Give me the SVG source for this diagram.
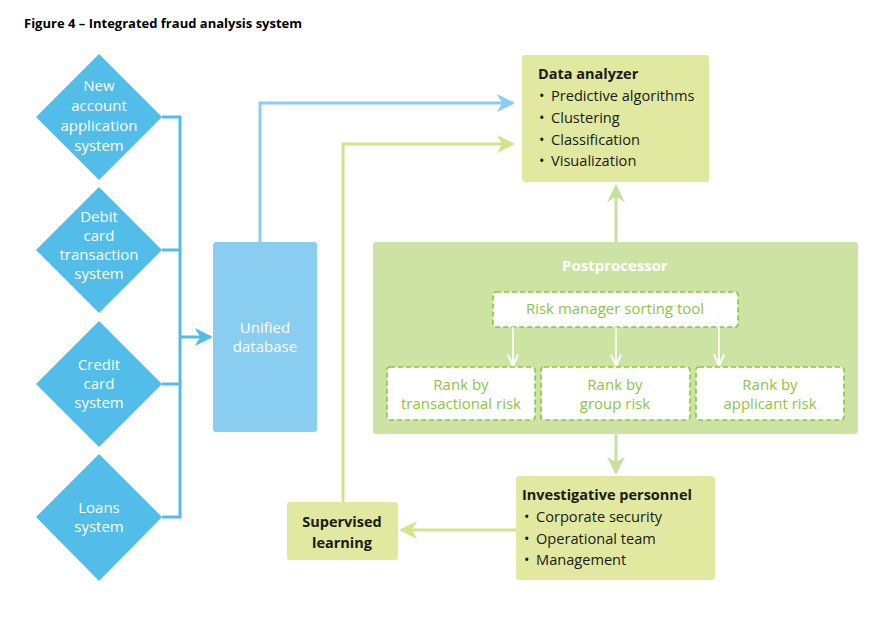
<svg xmlns="http://www.w3.org/2000/svg" width="876" height="641" viewBox="0 0 876 641">
<defs>
<style>
text{font-family:"Open Sans","Noto Sans","Liberation Sans",sans-serif}
.title{font-size:13px;font-weight:bold;fill:#000}
.dia{fill:#52bde9}
.dt{font-size:15px;fill:#fff;text-anchor:middle}
.db{fill:#89cdf1}
.lg{fill:#e0e99f}
.pp{fill:#cce3a4}
.dash{fill:#fff;stroke:#8cc63f;stroke-width:1.6;stroke-dasharray:5,3}
.gt{font-size:15px;fill:#8cc63f;text-anchor:middle}
.bt{font-size:14.6px;fill:#1a1a1a}
.bh{font-size:14.5px;font-weight:bold;fill:#1a1a1a}
.wt{font-size:15px;font-weight:bold;fill:#fff;text-anchor:middle}
.cb{fill:none;stroke:#52bde9;stroke-width:3}
.cl{fill:none;stroke:#89cdf1;stroke-width:3}
.cy{fill:none;stroke:#d4e38a;stroke-width:3}
.cg{fill:none;stroke:#c8e09e;stroke-width:3}
.cw{fill:none;stroke:#fff;stroke-width:1.6}
</style>
<marker id="ab" viewBox="0 0 10 10" refX="9" refY="5" markerWidth="6" markerHeight="6" orient="auto"><path d="M0,0 L10,5 L0,10 L3,5 Z" fill="#52bde9"/></marker>
<marker id="al" viewBox="0 0 10 10" refX="9" refY="5" markerWidth="6" markerHeight="6" orient="auto"><path d="M0,0 L10,5 L0,10 L3,5 Z" fill="#89cdf1"/></marker>
<marker id="ay" viewBox="0 0 10 10" refX="9" refY="5" markerWidth="6" markerHeight="6" orient="auto"><path d="M0,0 L10,5 L0,10 L3,5 Z" fill="#d4e38a"/></marker>
<marker id="ag" viewBox="0 0 10 10" refX="9" refY="5" markerWidth="6" markerHeight="6" orient="auto"><path d="M0,0 L10,5 L0,10 L3,5 Z" fill="#c8e09e"/></marker>
<marker id="aw" viewBox="0 0 10 10" refX="9" refY="5" markerWidth="8" markerHeight="8" orient="auto"><path d="M0,1 L9,5 L0,9" fill="none" stroke="#fff" stroke-width="1.6"/></marker>
</defs>
<rect width="876" height="641" fill="#fff"/>
<text class="title" x="24" y="28">Figure 4 – Integrated fraud analysis system</text>

<g id="connectors">
<path class="cb" d="M162,117 H180 V517 H162 M162,250 H180 M162,384 H180"/>
<path class="cb" d="M180,337 H211" marker-end="url(#ab)"/>
<path class="cl" d="M260,242 V103 H513" marker-end="url(#al)"/>
<path class="cy" d="M343,502 V144 H513" marker-end="url(#ay)"/>
<path class="cg" d="M616,242 V186" marker-end="url(#ag)"/>
<path class="cg" d="M616,434 V473" marker-end="url(#ag)"/>
<path class="cy" d="M516,530 H401" marker-end="url(#ay)"/>
</g>

<g id="new-account">
<polygon class="dia" points="99,54 162,117 99,180 36,117"/>
<text class="dt"><tspan x="99" y="91">New</tspan><tspan x="99" y="111">account</tspan><tspan x="99" y="131">application</tspan><tspan x="99" y="151">system</tspan></text>
</g>
<g id="debit-card">
<polygon class="dia" points="99,187 162,250 99,313 36,250"/>
<text class="dt"><tspan x="99" y="222">Debit</tspan><tspan x="99" y="241">card</tspan><tspan x="99" y="260">transaction</tspan><tspan x="99" y="279">system</tspan></text>
</g>
<g id="credit-card">
<polygon class="dia" points="99,321 162,384 99,447 36,384"/>
<text class="dt"><tspan x="99" y="370">Credit</tspan><tspan x="99" y="389">card</tspan><tspan x="99" y="408">system</tspan></text>
</g>
<g id="loans">
<polygon class="dia" points="99,454 162,517 99,581 36,517"/>
<text class="dt"><tspan x="99" y="513">Loans</tspan><tspan x="99" y="532">system</tspan></text>
</g>

<g id="unified-database">
<rect class="db" x="213" y="242" width="104" height="190" rx="3"/>
<text class="dt"><tspan x="265" y="333">Unified</tspan><tspan x="265" y="352">database</tspan></text>
</g>

<g id="data-analyzer">
<rect class="lg" x="522" y="55" width="187" height="127" rx="3"/>
<text class="bh" x="538" y="79">Data analyzer</text>
<text class="bt"><tspan x="539" y="101">•</tspan><tspan x="539" y="123">•</tspan><tspan x="539" y="145">•</tspan><tspan x="539" y="166">•</tspan></text>
<text class="bt"><tspan x="551" y="101">Predictive algorithms</tspan><tspan x="551" y="123">Clustering</tspan><tspan x="551" y="145">Classification</tspan><tspan x="551" y="166">Visualization</tspan></text>
</g>

<g id="postprocessor">
<rect class="pp" x="373" y="242" width="485" height="192" rx="3"/>
<text class="wt" x="615" y="271">Postprocessor</text>
</g>
<g id="risk-manager">
<rect class="dash" x="493" y="292" width="245" height="35" rx="3"/>
<text class="gt" x="615" y="314">Risk manager sorting tool</text>
</g>
<g id="rank-connectors">
<path class="cw" d="M513,327 V365 M616,327 V365 M719,327 V365" />
<path class="cw" d="M513,355 V366" marker-end="url(#aw)"/>
<path class="cw" d="M616,355 V366" marker-end="url(#aw)"/>
<path class="cw" d="M719,355 V366" marker-end="url(#aw)"/>
</g>
<g id="rank-transactional">
<rect class="dash" x="387" y="367" width="148" height="53" rx="3"/>
<text class="gt"><tspan x="461" y="390">Rank by</tspan><tspan x="461" y="409">transactional risk</tspan></text>
</g>
<g id="rank-group">
<rect class="dash" x="541" y="367" width="149" height="53" rx="3"/>
<text class="gt"><tspan x="615" y="390">Rank by</tspan><tspan x="615" y="409">group risk</tspan></text>
</g>
<g id="rank-applicant">
<rect class="dash" x="696" y="367" width="148" height="53" rx="3"/>
<text class="gt"><tspan x="770" y="390">Rank by</tspan><tspan x="770" y="409">applicant risk</tspan></text>
</g>

<g id="investigative-personnel">
<rect class="lg" x="516" y="476" width="199" height="104" rx="3"/>
<text class="bh" x="522" y="500">Investigative personnel</text>
<text class="bt"><tspan x="524" y="522">•</tspan><tspan x="524" y="544">•</tspan><tspan x="524" y="565">•</tspan></text>
<text class="bt"><tspan x="536" y="522">Corporate security</tspan><tspan x="536" y="544">Operational team</tspan><tspan x="536" y="565">Management</tspan></text>
</g>

<g id="supervised-learning">
<rect class="lg" x="287" y="502" width="111" height="58" rx="3"/>
<text class="bh" text-anchor="middle"><tspan x="342" y="527">Supervised</tspan><tspan x="342" y="548">learning</tspan></text>
</g>
</svg>
